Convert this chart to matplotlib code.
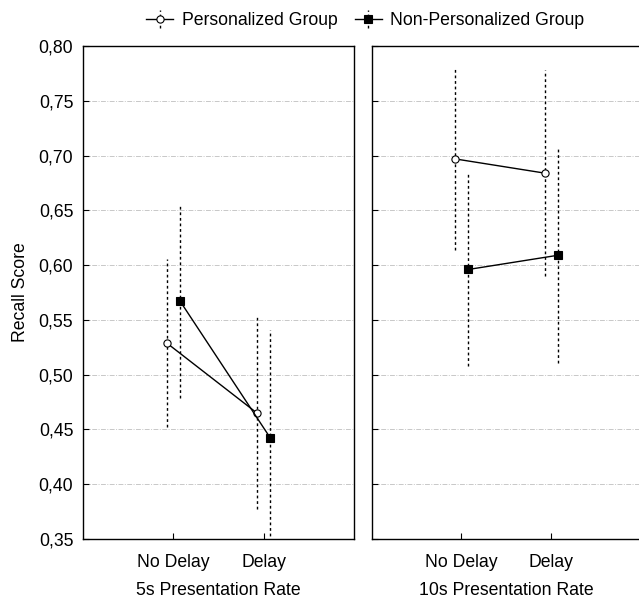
import numpy as np
import matplotlib
matplotlib.use('Agg')
import matplotlib.pyplot as plt

plt.rcParams['font.family'] = ['Liberation Sans', 'DejaVu Sans']

conditions = ['No Delay', 'Delay']
panels = ['5s Presentation Rate', '10s Presentation Rate']

# means and error half-widths, [panel][condition]
pers_mean = [[0.529, 0.465], [0.697, 0.684]]
pers_err = [[0.077, 0.088], [0.083, 0.094]]
nonpers_mean = [[0.567, 0.442], [0.596, 0.609]]
nonpers_err = [[0.088, 0.099], [0.088, 0.098]]

yticks = [0.35, 0.40, 0.45, 0.50, 0.55, 0.60, 0.65, 0.70, 0.75, 0.80]

fig = plt.figure(figsize=(6.39, 6.0), dpi=100)
ax1 = fig.add_axes([0.130, 0.1017, 0.424, 0.8216])
ax2 = fig.add_axes([0.5817, 0.1017, 0.4215, 0.8216])

fs = 12.7
x = np.arange(len(conditions))
off = 0.075
handles = []
for i, ax in enumerate([ax1, ax2]):
    for mean, err, dx, mk, fc in [(pers_mean[i], pers_err[i], -off, 'o', 'white'),
                                  (nonpers_mean[i], nonpers_err[i], off, 's', 'black')]:
        h = ax.errorbar(x + dx, mean, yerr=err, fmt='-', color='black', lw=1.0,
                        marker=mk, ms=5.5 if mk == 's' else 5.2, mfc=fc, mec='black',
                        mew=0.8, ecolor='black', elinewidth=1.0, capsize=0, zorder=3)
        h[2][0].set_linestyle((0, (2, 2)))
        if i == 0:
            handles.append(h)
    ax.set_xlim(-1, 2)
    ax.set_ylim(0.35, 0.80)
    ax.set_yticks(yticks)
    ax.set_xticks(x)
    ax.set_xticklabels(conditions, fontsize=fs)
    ax.set_xlabel(panels[i], fontsize=fs, labelpad=8)
    ax.tick_params(direction='in', length=4, width=0.8)
    ax.tick_params(axis='x', pad=11)
    ax.tick_params(axis='y', pad=7)
    ax.grid(axis='y', color='#c8c8c8', linestyle=(0, (5, 1.5, 1, 1.5)), lw=0.7)
    ax.set_axisbelow(True)
    for s in ax.spines.values():
        s.set_linewidth(1.0)

ax1.set_yticklabels([f'{v:.2f}'.replace('.', ',') for v in yticks], fontsize=fs)
ax1.set_ylabel('Recall Score', fontsize=fs, labelpad=7)
ax2.set_yticklabels([])

fig.legend(handles, ['Personalized Group', 'Non-Personalized Group'],
           loc='center', bbox_to_anchor=(0.572, 0.966), ncol=2, frameon=False,
           fontsize=fs, handlelength=1.5, handletextpad=0.5, columnspacing=1.0)

fig.savefig('out.png', dpi=100)
